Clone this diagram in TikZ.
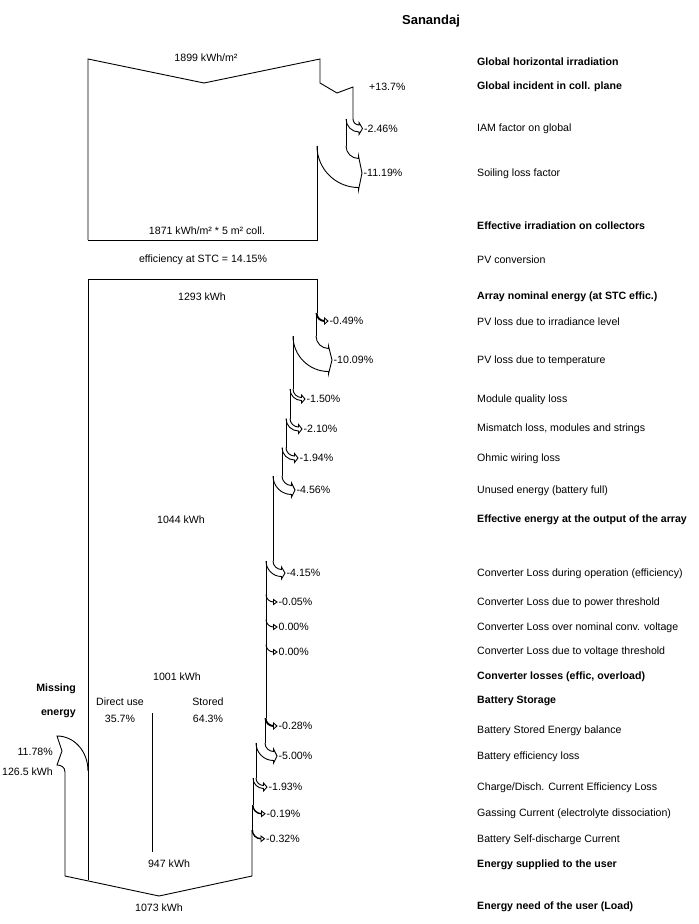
\documentclass[tikz,border=0pt]{standalone}
\usepackage{fontspec}
\setmainfont{Liberation Sans}
\usetikzlibrary{positioning}

\tikzset{
    band/.style={line width=0.9pt, line join=miter},
    txt/.style={font=\fontsize{10.6}{12}\selectfont, inner sep=0pt},
    heavy/.style={font=\fontsize{10.6}{12}\selectfont\bfseries, inner sep=0pt},
    stagelbl/.style={heavy, anchor=west},
    losslbl/.style={txt, anchor=west},
    pct/.style={txt, anchor=west},
}

\begin{document}
\begin{tikzpicture}[x=1pt, y=-1pt]
\useasboundingbox (0,0) rectangle (699,924);

\node[font=\fontsize{13}{15}\selectfont\bfseries, inner sep=0pt] (title) at (431,21) {Sanandaj};

% irradiation box
\draw[band] (88,240) -- (88,59) -- (204,83) -- (320,59) -- (320,83) -- (337,93) -- (353,87) -- (353,119);
\draw[band] (346,119) -- (346,146);
\draw[band] (317,146) -- (317,240) -- (88,240);

% energy band
\draw[band] (88,880) -- (88,279) -- (317,279) -- (317,313);
\foreach \x/\ya/\yb in {316/313/336, 293/336/389, 290/389/418.5, 286/418.5/447.5,
    282/447.5/476, 273/476/561, 266/561/718, 265/718/743, 256/743/778,
    253/778/805, 252.5/805/830}
    \draw[band] (\x,\ya) -- (\x,\yb);
\draw[band] (252,830) -- (252,876) -- (159,896) -- (65,876) -- (65,772)
    .. controls (65,767) and (61,765) .. (57,765) -- (62,751) -- (57,736)
    .. controls (74,736) and (88,751) .. (88,771);
\draw[band] (152,713) -- (152,852);

% losses
\foreach \xa/\xb/\yc/\rad/\txt [count=\i] in {
    353/346/119/6/-2.46\%, 346/317/146/12.5/-11.19\%,
    317/316/313/7.5/-0.49\%, 316/293/336/12.5/-10.09\%,
    293/290/389/8.5/-1.50\%, 290/286/418.5/8.5/-2.10\%,
    286/282/447.5/8.5/-1.94\%, 282/273/476/9.5/-4.56\%,
    273/266/561/8.5/-4.15\%, 266/266/594.5/7.5/-0.05\%,
    266/266/619.5/7.5/0.00\%, 266/266/644.5/7.5/0.00\%,
    266/265/718/7.5/-0.28\%, 265/256/743/8.5/-5.00\%,
    256/253/778/7.5/-1.93\%, 253/252.5/805/8.5/-0.19\%,
    252.5/252/830/8.5/-0.32\%}{
    \pgfmathsetmacro\lw{\xa-\xb}
    \pgfmathsetmacro\xc{\xa+\rad}
    \pgfmathsetmacro\Rad{\rad+\lw}
    \draw[band] (\xa,\yc) .. controls (\xa,\yc+0.55*\rad) and (\xc-0.55*\rad,\yc+\rad) .. (\xc,\yc+\rad)
        -- (\xc,\yc+\rad-2.5) -- (\xc+3.5,\yc+\rad+\lw/2) -- (\xc,\yc+\Rad+2.5) -- (\xc,\yc+\Rad)
        .. controls (\xc-0.55*\Rad,\yc+\Rad) and (\xb,\yc+0.55*\Rad) .. (\xb,\yc);
    \node[pct] (loss\i) at (\xc+5,\yc+\rad+\lw/2) {\txt};
}
\node[pct] (gain) at (369,87) {+13.7\%};

% values in the flow
\node[txt] (ghi) at (206,58) {1899 kWh/m²};
\node[txt] (eff) at (207,231) {1871 kWh/m² * 5 m² coll.};
\node[txt] (stc) at (203,260) {efficiency at STC = 14.15\%};
\node[txt] (nom) at (202,297) {1293 kWh};
\node[txt] (arr) at (181,520) {1044 kWh};
\node[txt] (conv) at (177,677) {1001 kWh};
\node[txt] (direct) at (120,702) {Direct use};
\node[txt] (directp) at (120,719) {35.7\%};
\node[txt] (stored) at (208,702) {Stored};
\node[txt] (storedp) at (208,719) {64.3\%};
\node[txt] (user) at (169,864) {947 kWh};
\node[txt] (load) at (159,908) {1073 kWh};
\node[heavy, anchor=east] (miss) at (76,689) {Missing};
\node[heavy, anchor=east] (missb) at (76,714) {energy};
\node[txt, anchor=east] (missp) at (53,752) {11.78\%};
\node[txt, anchor=east] (misse) at (53,772) {126.5 kWh};

% captions
\foreach \y/\s/\t in {
    62/stagelbl/Global horizontal irradiation,
    87/stagelbl/Global incident in coll. plane,
    129/losslbl/IAM factor on global,
    174/losslbl/Soiling loss factor,
    226/stagelbl/Effective irradiation on collectors,
    260/losslbl/PV conversion,
    297/stagelbl/{Array nominal energy (at STC effic.)},
    322/losslbl/PV loss due to irradiance level,
    361/losslbl/PV loss due to temperature,
    400/losslbl/Module quality loss,
    429/losslbl/{Mismatch loss, modules and strings},
    459/losslbl/Ohmic wiring loss,
    491/losslbl/{Unused energy (battery full)},
    520/stagelbl/Effective energy at the output of the array,
    574/losslbl/{Converter Loss during operation (efficiency)},
    603/losslbl/Converter Loss due to power threshold,
    628/losslbl/Converter Loss over nominal conv. voltage,
    652/losslbl/Converter Loss due to voltage threshold,
    677/stagelbl/{Converter losses (effic, overload)},
    701/stagelbl/Battery Storage,
    731/losslbl/Battery Stored Energy balance,
    757/losslbl/Battery efficiency loss,
    788/losslbl/{Charge/Disch. Current Efficiency Loss},
    814/losslbl/{Gassing Current (electrolyte dissociation)},
    840/losslbl/Battery Self-discharge Current,
    865/stagelbl/Energy supplied to the user,
    907/stagelbl/{Energy need of the user (Load)}}
    \node[\s] at (477,\y) {\t};
\end{tikzpicture}
\end{document}
